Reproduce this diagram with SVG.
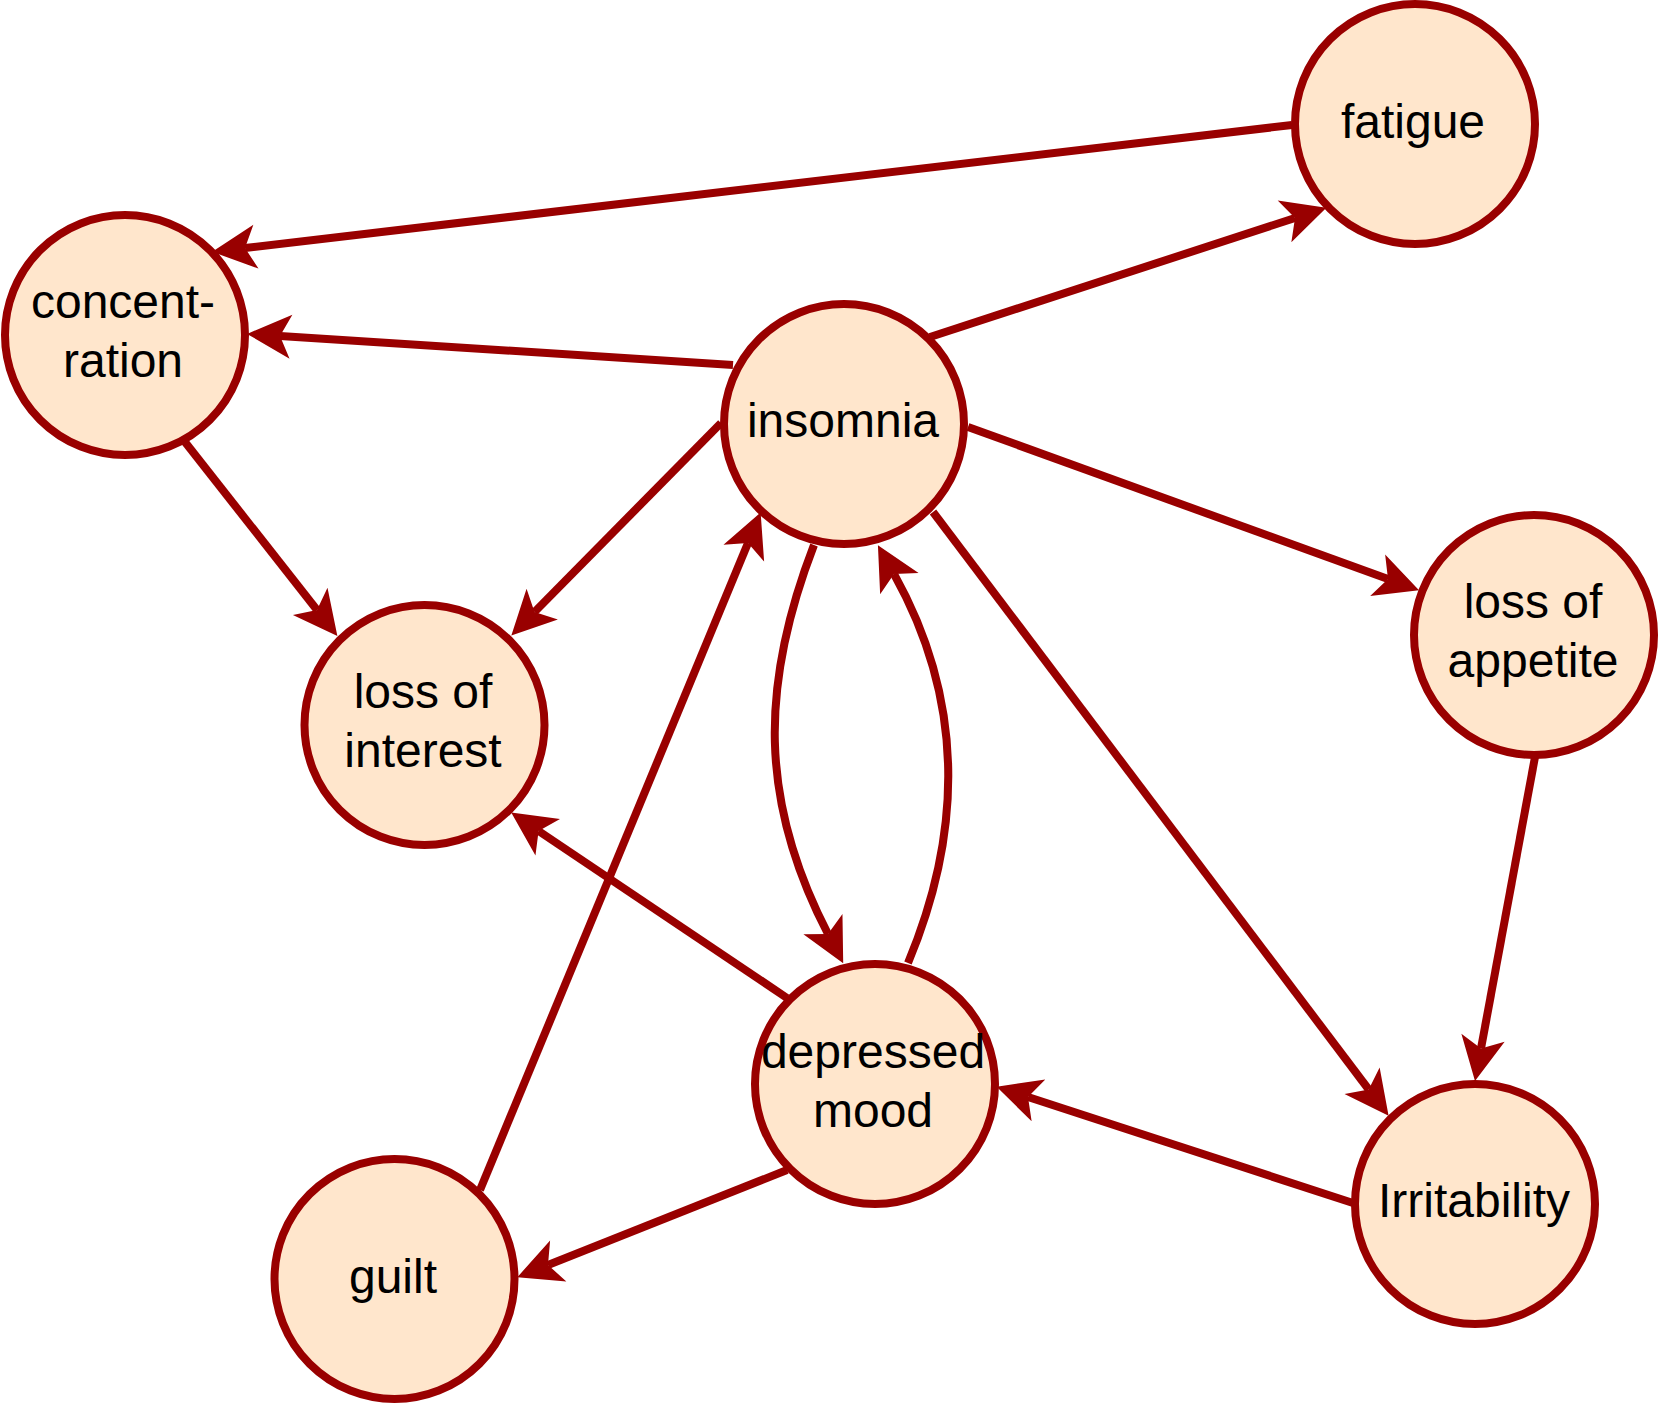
<svg xmlns="http://www.w3.org/2000/svg" width="1659" height="1404" viewBox="0 0 1659 1404">
  <style>
    .node circle { fill: #FFE6CC; stroke: #990000; stroke-width: 8; }
    .node text { font-family: "Liberation Sans", Arial, Helvetica, sans-serif; font-size: 48px; fill: #000000; text-anchor: middle; }
    .edge { fill: none; stroke: #990000; stroke-width: 8; marker-end: url(#arrow); }
  </style>
  <defs>
    <marker id="arrow" markerUnits="userSpaceOnUse" viewBox="-12 -23 46 46" markerWidth="46" markerHeight="46" refX="0" refY="0" orient="auto" overflow="visible">
      <path d="M33,0 L-11,-22 L0,0 L-11,22 Z" fill="#990000"/>
    </marker>
  </defs>
  <rect width="1659" height="1404" fill="#FFFFFF"/>
  <g id="connectors">
    <path class="edge" d="M1292,125 L245,248"/>
    <path class="edge" d="M930,337 L1295,218"/>
    <path class="edge" d="M733,365 L280,336"/>
    <path class="edge" d="M721,423 L534.5,612"/>
    <path class="edge" d="M185,442 L317,610"/>
    <path class="edge" d="M968,427 L1388,579"/>
    <path class="edge" d="M933,512 L1368.7,1089.5"/>
    <path class="edge" d="M1535,757 L1481,1048.5"/>
    <path class="edge" d="M1353,1203 L1028,1097"/>
    <path class="edge" d="M787,1170 L548,1265"/>
    <path class="edge" d="M787,998 L538.6,831"/>
    <path class="edge" d="M480,1190 L748,543"/>
    <path class="edge" d="M814,545 C760,685 759,801 828,934"/>
    <path class="edge" d="M908,963 Q995,755 894,574"/>
  </g>
  <g id="node-fatigue" class="node">
    <circle cx="1415" cy="124" r="120"/>
    <text x="1413" y="138">fatigue</text>
  </g>
  <g id="node-concentration" class="node">
    <circle cx="125" cy="335" r="120"/>
    <text x="123" y="318">concent-</text>
    <text x="123" y="377">ration</text>
  </g>
  <g id="node-insomnia" class="node">
    <circle cx="844" cy="424" r="120"/>
    <text x="843" y="437">insomnia</text>
  </g>
  <g id="node-loss-of-appetite" class="node">
    <circle cx="1534" cy="635" r="120"/>
    <text x="1533" y="618">loss of</text>
    <text x="1533" y="677">appetite</text>
  </g>
  <g id="node-loss-of-interest" class="node">
    <circle cx="424.5" cy="725" r="120"/>
    <text x="423" y="708">loss of</text>
    <text x="423" y="767">interest</text>
  </g>
  <g id="node-depressed-mood" class="node">
    <circle cx="875" cy="1084" r="120"/>
    <text x="873" y="1068">depressed</text>
    <text x="873" y="1127">mood</text>
  </g>
  <g id="node-irritability" class="node">
    <circle cx="1475" cy="1204" r="120"/>
    <text x="1474" y="1217">Irritability</text>
  </g>
  <g id="node-guilt" class="node">
    <circle cx="394.5" cy="1279" r="120"/>
    <text x="393" y="1293">guilt</text>
  </g>
</svg>
